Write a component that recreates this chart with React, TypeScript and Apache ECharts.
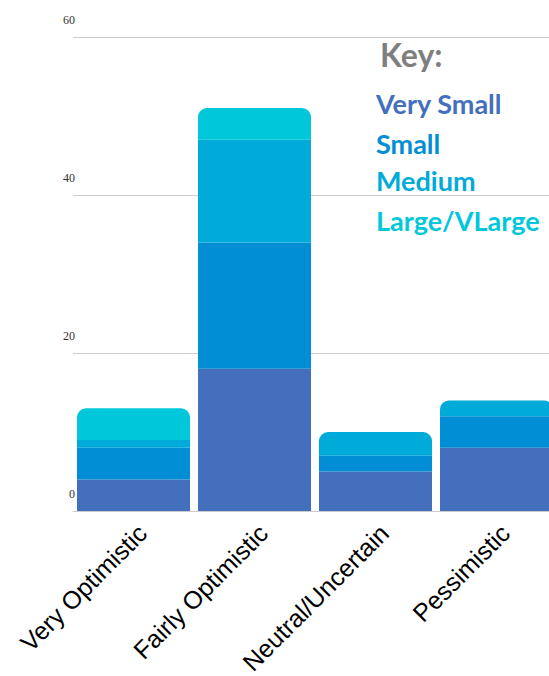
import React, { useEffect, useRef } from "react";
import * as echarts from "echarts";

const categories = ["Very Optimistic", "Fairly Optimistic", "Neutral/Uncertain", "Pessimistic"];
const seriesNames = ["Very Small", "Small", "Medium", "Large/VLarge"];
const verySmall = [4, 18, 5, 8];
const small = [4, 16, 2, 4];
const medium = [1, 13, 3, 2];
const largeVLarge = [4, 4, 0, 0];
const yTicks = [0, 20, 40, 60];

const colors = ["#446fbd", "#018ed5", "#00abd9", "#00c8da"];

export default function App() {
  const ref = useRef<HTMLDivElement>(null);
  useEffect(() => {
    if (!ref.current) return;
    const chart = echarts.init(ref.current, null, { renderer: "svg" });
    const all = [verySmall, small, medium, largeVLarge];
    const topIndex = categories.map((_, ci) => {
      let t = 0;
      all.forEach((arr, si) => {
        if (arr[ci] > 0) t = si;
      });
      return t;
    });
    const series = all.map((arr, si) => ({
      name: seriesNames[si],
      type: "bar",
      stack: "total",
      barCategoryGap: "6.6%",
      itemStyle: { color: colors[si] },
      data: arr.map((v, ci) => ({
        value: v,
        itemStyle: { borderRadius: topIndex[ci] === si ? [9, 9, 0, 0] : 0 },
      })),
    }));
    const legendY = [103, 143, 180, 220];
    chart.setOption({
      animation: false,
      grid: {
        left: 73,
        width: 484,
        top: 37,
        bottom: 165,
        containLabel: false,
        outerBoundsMode: "none",
      },
      xAxis: {
        type: "category",
        data: categories,
        axisTick: { show: false },
        axisLine: { lineStyle: { color: "#cccccc" } },
        axisLabel: {
          rotate: 45,
          interval: 0,
          margin: 9,
          verticalAlign: "top",
          color: "#000",
          fontFamily: "Liberation Sans",
          fontSize: 25,
        },
      },
      yAxis: {
        type: "value",
        min: 0,
        max: 60,
        interval: 20,
        axisLine: { show: false },
        axisTick: { show: false },
        splitLine: { lineStyle: { color: "#cccccc" } },
        axisLabel: {
          color: "#333",
          fontFamily: "Liberation Serif",
          fontSize: 12,
          margin: -2,
          verticalAlign: "bottom",
          padding: [0, 0, 11, 0],
          formatter: (v: number) => (yTicks.includes(v) ? String(v) : ""),
        },
      },
      graphic: [
        {
          type: "text",
          x: 380,
          y: 54,
          style: {
            text: "Key:",
            fill: "#7f7f7f",
            font: "bold 32px Lato",
            verticalAlign: "middle",
          },
        },
        ...seriesNames.map((n, i) => ({
          type: "text",
          x: 376,
          y: legendY[i],
          style: {
            text: n,
            fill: colors[i],
            font: "bold 27px Lato",
            verticalAlign: "middle",
          },
        })),
      ],
      series,
    });
    return () => chart.dispose();
  }, []);
  return (
    <div
      style={{
        position: "fixed",
        left: 0,
        top: 0,
        width: 549,
        height: 676,
        overflow: "hidden",
        background: "#fff",
      }}
    >
      <div ref={ref} style={{ width: 570, height: 676 }} />
    </div>
  );
}
